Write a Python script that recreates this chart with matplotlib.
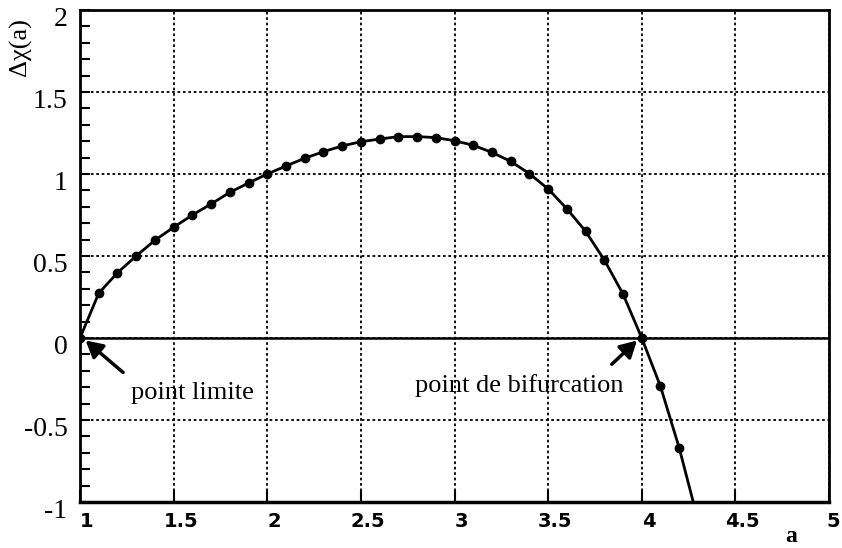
import matplotlib
matplotlib.use("Agg")
import matplotlib.pyplot as plt
import matplotlib.transforms as mtransforms
import numpy as np

# data
a_values = [1.0, 1.1, 1.2, 1.3, 1.4, 1.5, 1.6, 1.7, 1.8, 1.9, 2.0,
            2.1, 2.2, 2.3, 2.4, 2.5, 2.6, 2.7, 2.8, 2.9, 3.0,
            3.1, 3.2, 3.3, 3.4, 3.5, 3.6, 3.7, 3.8, 3.9, 4.0,
            4.1, 4.2, 4.3]
dchi_values = [0.0, 0.273, 0.398, 0.50, 0.596, 0.675, 0.75, 0.817, 0.888, 0.945, 1.0,
               1.049, 1.096, 1.136, 1.171, 1.197, 1.213, 1.228, 1.228, 1.222, 1.203,
               1.175, 1.132, 1.077, 1.002, 0.909, 0.788, 0.651, 0.476, 0.268, 0.0,
               -0.295, -0.67, -1.11]
x_ticks = [1, 1.5, 2, 2.5, 3, 3.5, 4, 4.5, 5]
x_tick_labels = ["1", "1.5", "2", "2.5", "3", "3.5", "4", "4.5", "5"]
y_ticks = [-1, -0.5, 0, 0.5, 1, 1.5, 2]
y_tick_labels = ["-1", "-0.5", "0", "0.5", "1", "1.5", "2"]
xlabel = "a"
ylabel = "Δχ(a)"
ann_limit = "point limite"
ann_bif = "point de bifurcation"

fig = plt.figure(figsize=(8.42, 5.48), dpi=100)
ax = fig.add_axes([80/842, 1-502/548, (829-80)/842, (502-10)/548])
ax.set_xlim(1, 5)
ax.set_ylim(-1, 2)

ax.grid(True, which="major", color="black", linestyle=(0, (1.5, 1.5)), linewidth=1.3)
ax.axhline(0, color="black", linewidth=1.8, zorder=2)

ax.plot(a_values, dchi_values, color="black", linewidth=2.0, marker="o",
        markersize=6, zorder=3, clip_on=True)

for s in ax.spines.values():
    s.set_linewidth(2.0)
ax.spines["bottom"].set_linewidth(2.5)

ax.set_xticks(x_ticks)
ax.set_xticklabels(x_tick_labels, fontfamily="DejaVu Sans", fontweight="bold", fontsize=14)
ax.set_yticks(y_ticks)
ax.set_yticklabels(y_tick_labels, fontfamily="Liberation Serif", fontsize=20)
ax.set_yticks(np.arange(-1, 2.0001, 0.1), minor=True)
ax.tick_params(axis="x", direction="in", length=9, width=1.5, pad=7, top=False)
ax.tick_params(axis="y", which="major", direction="in", length=7, width=1.5, pad=9, right=False)
ax.tick_params(axis="y", which="minor", direction="in", length=7, width=1.5, right=False)

dx = mtransforms.ScaledTranslation(7/100, 0, fig.dpi_scale_trans)
dx_last = mtransforms.ScaledTranslation(4/100, 0, fig.dpi_scale_trans)
xlabs = ax.get_xticklabels()
for i, lab in enumerate(xlabs):
    lab.set_transform(lab.get_transform() + (dx_last if i == len(xlabs) - 1 else dx))
dy = mtransforms.ScaledTranslation(0, -6/100, fig.dpi_scale_trans)
for lab in ax.get_yticklabels():
    lab.set_transform(lab.get_transform() + dy)

fig.text(791/842, 1-536/548, xlabel, fontfamily="Liberation Serif", fontweight="bold",
         fontsize=17, ha="center", va="center")
fig.text(20/842, 1-47/548, ylabel, fontfamily="Liberation Serif", fontsize=19,
         rotation=90, ha="center", va="center")

arrowprops = dict(arrowstyle="-|>,head_length=1.0,head_width=0.55", color="black",
                  linewidth=2.5, shrinkA=0, shrinkB=0)
ax.annotate("", xy=(1.03, -0.015), xytext=(1.23, -0.21), arrowprops=arrowprops)
ax.annotate("", xy=(3.975, -0.015), xytext=(3.84, -0.16), arrowprops=arrowprops)
ax.text(1.60, -0.335, ann_limit, fontfamily="Liberation Serif", fontsize=19,
        ha="center", va="center")
ax.text(3.344, -0.29, ann_bif, fontfamily="Liberation Serif", fontsize=19,
        ha="center", va="center")

fig.savefig("out.png", dpi=100)
